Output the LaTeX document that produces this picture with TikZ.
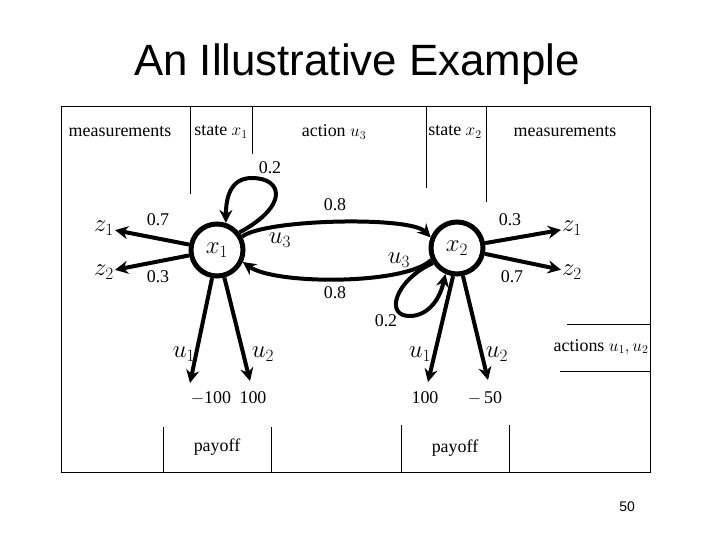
\documentclass[tikz,border=0pt]{standalone}
\usepackage{fontspec}
\setmainfont{Liberation Serif}
\newfontfamily\titlefont{Liberation Sans}
\usepackage{tikz}
\usetikzlibrary{arrows.meta, positioning, calc}

\begin{document}
\begin{tikzpicture}[
  x=1bp, y=-1bp,
  state/.style={circle, draw, line width=5bp, minimum size=52bp,
                inner sep=0pt, font=\fontsize{25}{27}\selectfont},
  txt/.style={inner sep=1bp, font=\fontsize{18}{20}\selectfont},
  sym/.style={inner sep=1bp, font=\fontsize{26}{28}\selectfont},
  arr/.style={-{Stealth[length=13bp,width=13bp]}, line width=4bp},
  rule/.style={line width=1bp}
]
\useasboundingbox (0,0) rectangle (720,540);

% title and page number
\node[font=\titlefont\fontsize{44}{48}\selectfont] (title) at (357,64) {An Illustrative Example};
\node[font=\titlefont\fontsize{14}{16}\selectfont] (page) at (627,507) {50};

% frame and separators
\draw[rule] (61,107) rectangle (650,472);
\draw[rule] (190,107) -- (190,194);
\draw[rule] (252,107) -- (252,154);
\draw[rule] (426,107) -- (426,188);
\draw[rule] (486,107) -- (486,202);
\draw[rule] (163,427) -- (163,472);
\draw[rule] (271,427) -- (271,472);
\draw[rule] (401,425) -- (401,472);
\draw[rule] (509,425) -- (509,472);
\draw[rule] (567,324) -- (650,324);
\draw[rule] (560,371) -- (650,371);

% headers
\node[txt] (measl)   at (120,132) {measurements};
\node[txt] (statel)  at (221,132) {state $x_1$};
\node[txt] (action)  at (334,132) {action $u_3$};
\node[txt] (stater)  at (455,132) {state $x_2$};
\node[txt] (measr)   at (565,132) {measurements};
\node[txt] (payl)    at (217,447) {payoff};
\node[txt] (payr)    at (455,448) {payoff};
\node[txt] (acts)    at (601,347) {actions $u_1, u_2$};

% states
\node[state] (x1) at (217,250) {$x_1$};
\node[state] (x2) at (457,248) {$x_2$};

% measurements
\node[sym] (z1l) at (104,228) {$z_1$};
\node[sym] (z2l) at (104,272) {$z_2$};
\node[sym] (z1r) at (572,228) {$z_1$};
\node[sym] (z2r) at (572,272) {$z_2$};

\draw[arr] (x1) -- (z1l);
\draw[arr] (x1) -- (z2l);
\draw[arr] (x2) -- (z1r);
\draw[arr] (x2) -- (z2r);

\node[txt] (p1) at (158,220) {0.7};
\node[txt] (p2) at (158,277) {0.3};
\node[txt] (p3) at (510,220) {0.3};
\node[txt] (p4) at (512,277) {0.7};

% action u3
\draw[arr] (x1.28) .. controls (265,219) and (410,216) .. (x2.158);
\draw[arr] (x2.205) .. controls (405,285) and (275,285) .. (x1.335);
\draw[arr] (x1.38) .. controls (290,205) and (282,178) .. (252,178)
                   .. controls (230,178) and (226,198) .. (x1.72);
\draw[arr] (x2.212) .. controls (395,280) and (383,318) .. (412,316)
                    .. controls (430,314) and (440,298) .. (x2.246);

\node[txt] (p5) at (270,168) {0.2};
\node[txt] (p6) at (335,205) {0.8};
\node[txt] (p7) at (335,293) {0.8};
\node[txt] (p8) at (386,321) {0.2};
\node[sym] (u3l) at (280,240) {$u_3$};
\node[sym] (u3r) at (399,260) {$u_3$};

% actions u1, u2
\coordinate (e11) at (190,383);
\coordinate (e12) at (250,381);
\coordinate (e21) at (428,382);
\coordinate (e22) at (488,380);
\draw[arr] (x1.260) -- (e11);
\draw[arr] (x1.285) -- (e12);
\draw[arr] (x2.262) -- (e21);
\draw[arr] (x2.282) -- (e22);

\node[sym] (u1l) at (184,354) {$u_1$};
\node[sym] (u2l) at (263,354) {$u_2$};
\node[sym] (u1r) at (420,354) {$u_1$};
\node[sym] (u2r) at (497,354) {$u_2$};

\node[txt] (r11) at (211,398) {$-$100};
\node[txt] (r12) at (253,398) {100};
\node[txt] (r21) at (425,398) {100};
\node[txt] (r22) at (485,398) {$-$\,50};
\end{tikzpicture}
\end{document}
